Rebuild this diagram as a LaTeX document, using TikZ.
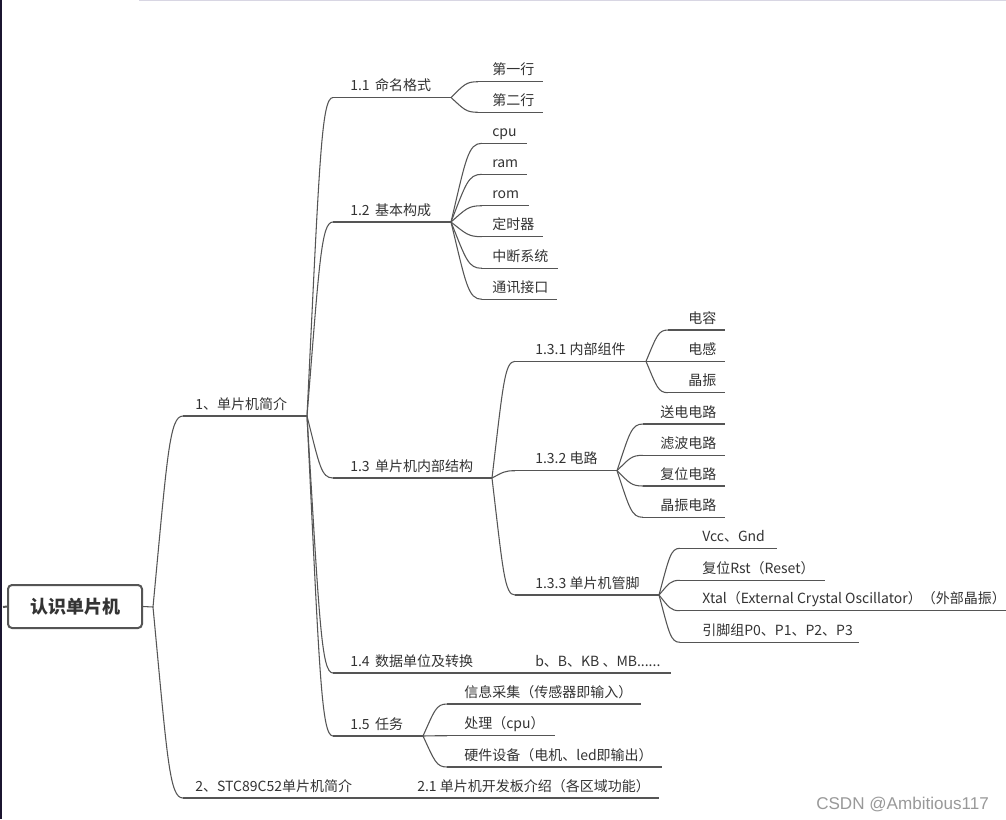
\documentclass[tikz,border=0pt]{standalone}
\usepackage{fontspec}
\setmainfont{Noto Sans CJK SC}
\newfontfamily\wmfont{Liberation Sans}
\usetikzlibrary{calc}
\definecolor{txt}{HTML}{333333}
\definecolor{ln}{HTML}{555555}
\definecolor{edge}{HTML}{1B1530}
\definecolor{topl}{HTML}{D8D6E3}
\tikzset{
  conn/.style={draw=ln, line width=0.8pt},
  lbl/.style={anchor=base west, inner sep=0pt, text=txt, font=\fontsize{10.5pt}{12.5pt}\selectfont},
  rootbox/.style={draw=ln, line width=1.5pt, rounded corners=3pt, fill=white,
    minimum width=100.5pt, minimum height=32.25pt, text=txt,
    font=\fontsize{13.5pt}{16pt}\selectfont\bfseries},
}
% \topic{name}{text}{text x}{line y}{start x}{end x}
\newcommand\topic[6]{%
  \coordinate (#1-s) at (#5,#4);
  \coordinate (#1-e) at (#6,#4);
  \node[lbl] (#1) at (#3,#4-7) {#2};
  \draw[conn] (#1-s) -- (#1-e);
}
\newcommand\branch[2]{%
  \draw[conn] let \p1=(#1-e), \p2=(#2-s) in
    (\p1) .. controls ({\x1+0.48*(\x2-\x1)},{\y1+0.8*(\y2-\y1)}) and ({\x1+0.55*(\x2-\x1)},\y2) .. (\p2);
}
\begin{document}
\begin{tikzpicture}[x=0.75pt,y=-0.75pt]
\useasboundingbox (0,0) rectangle (1006,819);
\fill[white] (0,0) rectangle (1006,819);
\draw[topl, line width=0.75pt] (139,0.5) -- (1006,0.5);
\draw[edge, line width=1.5pt] (1,0) -- (1,819);

% root
\node[rootbox] (root) at (75,606.5) {认识单片机};
\coordinate (stub) at (3,607);
\draw[ln, line width=1.5pt] (stub) -- (root.west);
\coordinate (root-e) at (153,607);
\draw[conn] (root.east) -- (root-e);

% level 1
\topic{n1}{1、单片机简介}{195}{416}{183}{307}
\topic{n2}{2、STC89C52单片机简介}{195}{798}{183}{400}
\branch{root}{n1}
\branch{root}{n2}
\topic{n21}{2.1 单片机开发板介绍（各区域功能）}{417}{798}{400}{659}
\branch{n2}{n21}

% level 2
\topic{n11}{1.1\, 命名格式}{350}{97.5}{333}{451}
\topic{n12}{1.2\, 基本构成}{350}{222}{333}{451}
\topic{n13}{1.3\, 单片机内部结构}{350}{478}{333}{492}
\topic{n14}{1.4\, 数据单位及转换}{350}{673}{333}{520}
\topic{n15}{1.5\, 任务}{350}{736}{333}{423}
\branch{n1}{n11}
\branch{n1}{n12}
\branch{n1}{n13}
\branch{n1}{n14}
\branch{n1}{n15}

\topic{n141}{b、B、KB 、MB......}{535}{673}{520}{671}
\branch{n14}{n141}

% 1.1
\topic{n111}{第一行}{492}{81.7}{478}{543}
\topic{n112}{第二行}{492}{112.3}{478}{543}
\branch{n11}{n111}
\branch{n11}{n112}

% 1.2
\topic{n121}{cpu}{492}{143.3}{482}{527}
\topic{n122}{ram}{492}{174.3}{482}{527}
\topic{n123}{rom}{492}{205.7}{482}{529}
\topic{n124}{定时器}{492}{236.7}{482}{543}
\topic{n125}{中断系统}{492}{268.3}{482}{558}
\topic{n126}{通讯接口}{492}{299.3}{482}{557}
\foreach \c in {n121,n122,n123,n124,n125,n126}{\branch{n12}{\c}}

% 1.3
\topic{n131}{1.3.1 内部组件}{535}{361.3}{515}{646}
\topic{n132}{1.3.2 电路}{535}{470.7}{515}{617}
\topic{n133}{1.3.3 单片机管脚}{535}{595}{515}{659}
\branch{n13}{n131}
\branch{n13}{n132}
\branch{n13}{n133}

\topic{n1311}{电容}{688}{330}{668}{725}
\topic{n1312}{电感}{688}{361.3}{668}{725}
\topic{n1313}{晶振}{688}{392.7}{668}{725}
\foreach \c in {n1311,n1312,n1313}{\branch{n131}{\c}}

\topic{n1321}{送电电路}{660}{424}{643}{725}
\topic{n1322}{滤波电路}{660}{455.3}{643}{725}
\topic{n1323}{复位电路}{660}{486}{643}{725}
\topic{n1324}{晶振电路}{660}{517.3}{643}{725}
\foreach \c in {n1321,n1322,n1323,n1324}{\branch{n132}{\c}}

\topic{n1331}{Vcc、Gnd}{702}{548.3}{680}{777}
\topic{n1332}{复位Rst（Reset）}{702}{580.3}{680}{825}
\topic{n1333}{Xtal（External Crystal Oscillator）（外部晶振）}{702}{610.7}{680}{1006}
\topic{n1334}{引脚组P0、P1、P2、P3}{702}{642.3}{680}{859}
\foreach \c in {n1331,n1332,n1333,n1334}{\branch{n133}{\c}}

% 1.5
\topic{n151}{信息采集（传感器即输入）}{464}{704}{447}{641}
\topic{n152}{处理（cpu）}{464}{735.7}{447}{555}
\topic{n153}{硬件设备（电机、led即输出）}{464}{767}{447}{662}
\foreach \c in {n151,n152,n153}{\branch{n15}{\c}}

% watermark
\node[anchor=base west, inner sep=0pt, text=black!40, font=\wmfont\fontsize{12.8pt}{15pt}\selectfont] (wm) at (816,809) {CSDN @Ambitious117};
\end{tikzpicture}
\end{document}
